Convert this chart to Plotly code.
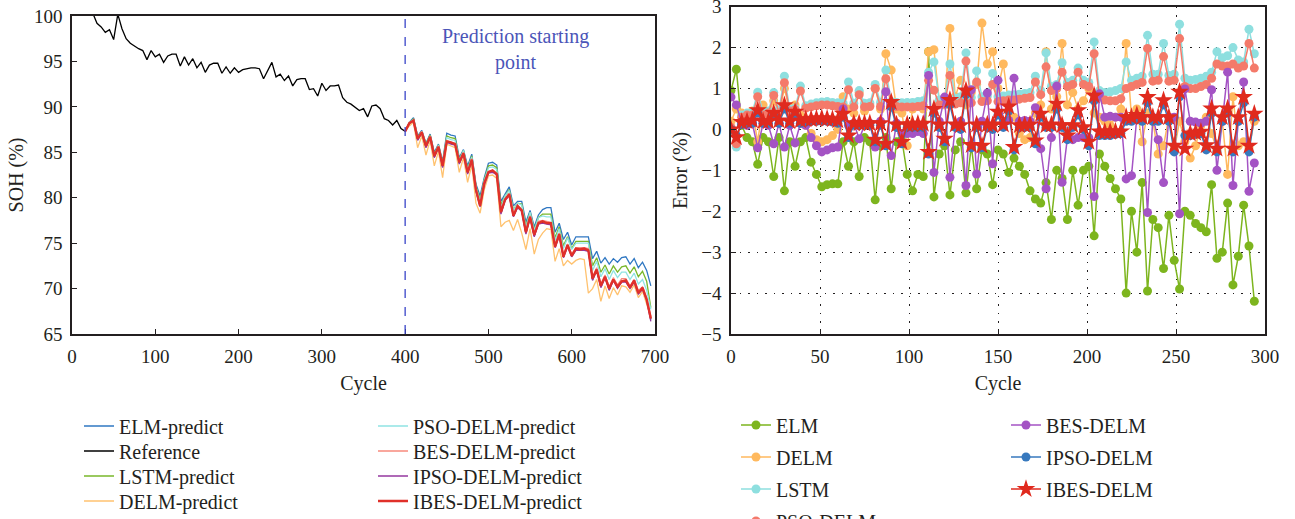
import plotly.graph_objects as go

# ---------------- Left panel: SOH curves ----------------
ref_cycles = list(range(0, 700, 5))
reference = [
    102.5, 102.0, 101.6, 101.2, 100.8, 100.3, 99.2, 98.8, 98.2, 98.5,
    97.4, 100.2, 98.6, 97.5, 97.0, 96.7, 96.4, 96.2, 95.2, 96.2,
    95.5, 95.8, 94.9, 95.6, 95.8, 95.8, 94.5, 95.5, 94.6, 95.3,
    94.3, 94.9, 93.8, 94.6, 94.8, 94.8, 93.7, 94.4, 93.7, 94.3,
    93.8, 94.1, 94.2, 94.3, 94.3, 94.2, 93.1, 94.0, 94.9, 93.3,
    93.6, 92.9, 93.4, 92.3, 93.0, 93.1, 93.1, 91.9, 92.0, 91.2,
    92.6, 91.8, 92.3, 92.3, 92.4, 91.0, 90.5, 90.3, 90.0, 89.6,
    89.8, 88.9, 90.1, 90.2, 89.8, 88.7, 88.5, 88.0, 88.5, 87.6,
    87.3, 88.2, 88.5, 86.4, 87.2, 85.6, 86.7, 84.5, 85.6, 83.4,
    86.2, 86.0, 85.9, 83.8, 84.9, 82.7, 84.2, 80.8, 79.1, 81.5,
    82.8, 82.9, 82.6, 78.3, 79.8, 80.3, 78.0, 79.0, 78.6, 76.1,
    77.9, 75.8, 77.2, 77.3, 77.2, 77.1, 74.6, 75.9, 73.5, 74.7,
    73.6, 74.3, 74.3, 74.3, 74.2, 71.0, 72.1, 70.2, 71.3, 69.9,
    71.0, 70.1, 70.8, 70.8, 70.1, 70.8, 69.5, 70.0, 68.8, 66.6,
]

pred_cycles = list(range(400, 700, 5))
elm_pred = [
    87.3, 88.3, 88.8, 86.8, 87.4, 86.0, 87.0, 85.0, 85.9, 84.0,
    87.1, 86.9, 86.8, 84.4, 85.3, 83.5, 84.8, 81.5, 80.2, 82.2,
    83.8, 83.9, 83.6, 79.6, 80.4, 81.2, 79.1, 79.6, 79.6, 77.3,
    78.6, 76.8, 78.1, 78.7, 78.9, 78.9, 76.2, 77.2, 75.4, 76.2,
    74.8, 75.7, 75.7, 75.7, 75.7, 73.3, 74.1, 72.8, 73.4, 72.7,
    73.3, 72.9, 73.4, 73.5, 72.7, 73.3, 72.3, 72.9, 72.0, 70.3,
]
lstm_pred = [
    87.3, 88.25, 88.7, 86.7, 87.3, 85.9, 86.9, 84.8, 85.8, 83.8,
    86.8, 86.6, 86.5, 84.2, 85.2, 83.2, 84.6, 81.3, 79.8, 82.0,
    83.5, 83.6, 83.3, 79.2, 80.2, 80.9, 78.7, 79.4, 79.3, 76.9,
    78.4, 76.5, 77.8, 78.2, 78.2, 78.2, 75.6, 76.8, 74.7, 75.7,
    74.4, 75.2, 75.2, 75.2, 75.2, 72.5, 73.4, 71.8, 72.6, 71.6,
    72.5, 71.8, 72.4, 72.5, 71.7, 72.4, 71.3, 71.9, 70.8, 67.9,
]
delm_pred = [
    87.3, 87.9, 88.3, 85.5, 86.8, 84.7, 86.3, 83.5, 85.1, 82.2,
    85.9, 85.7, 85.5, 82.8, 84.4, 81.7, 83.6, 79.4, 78.3, 80.9,
    82.4, 82.5, 82.1, 76.8, 77.3, 77.5, 76.4, 77.6, 76.1, 74.3,
    76.6, 73.8, 75.4, 76.1, 76.6, 76.5, 73.0, 74.4, 72.5, 73.1,
    72.7, 73.1, 73.3, 73.2, 69.5, 70.0, 71.0, 68.6, 70.3, 68.9,
    70.1, 69.3, 70.3, 70.2, 69.6, 70.4, 69.0, 69.7, 68.4, 66.9,
]
pso_pred = [
    87.3, 88.3, 88.6, 86.6, 87.3, 85.8, 86.8, 84.7, 85.8, 83.7,
    86.6, 86.4, 86.3, 84.1, 85.2, 83.1, 84.5, 81.2, 79.6, 81.9,
    83.3, 83.4, 83.1, 78.9, 80.2, 80.8, 78.6, 79.4, 79.2, 76.7,
    78.4, 76.4, 77.8, 78.0, 77.9, 77.9, 75.3, 76.6, 74.4, 75.6,
    74.3, 75.0, 75.0, 75.0, 75.0, 72.0, 73.0, 71.3, 72.2, 71.0,
    72.0, 71.2, 71.8, 71.8, 71.0, 71.7, 70.5, 71.0, 69.8, 67.7,
]
bes_pred = [
    87.3, 88.3, 88.5, 86.5, 87.3, 85.7, 86.8, 84.6, 85.7, 83.5,
    86.3, 86.1, 86.0, 83.9, 85.0, 82.8, 84.3, 80.9, 79.2, 81.6,
    82.9, 83.0, 82.7, 78.5, 79.9, 80.4, 78.2, 79.1, 78.7, 76.3,
    78.0, 76.0, 77.4, 77.5, 77.4, 77.3, 74.8, 76.1, 73.7, 74.9,
    73.8, 74.5, 74.5, 74.5, 74.4, 71.3, 72.3, 70.5, 71.5, 70.2,
    71.2, 70.4, 71.1, 71.1, 70.3, 71.0, 69.8, 70.2, 69.0, 66.9,
]
ipso_pred = [
    87.3, 88.2, 88.4, 86.3, 87.1, 85.5, 86.6, 84.4, 85.5, 83.3,
    86.1, 85.9, 85.8, 83.7, 84.8, 82.6, 84.1, 80.7, 79.0, 81.4,
    82.7, 82.8, 82.5, 78.2, 79.7, 80.2, 77.9, 78.9, 78.5, 76.0,
    77.8, 75.7, 77.1, 77.2, 77.1, 77.0, 74.5, 75.8, 73.4, 74.6,
    73.5, 74.2, 74.2, 74.2, 74.1, 70.9, 72.0, 70.1, 71.2, 69.8,
    70.9, 70.0, 70.7, 70.7, 70.0, 70.7, 69.4, 69.9, 68.7, 66.4,
]
ibes_pred = [
    87.3, 88.2, 88.5, 86.5, 87.2, 85.7, 86.7, 84.6, 85.6, 83.5,
    86.2, 86.1, 85.9, 83.9, 84.9, 82.8, 84.2, 80.9, 79.1, 81.6,
    82.8, 83.0, 82.6, 78.4, 79.8, 80.4, 78.0, 79.1, 78.6, 76.2,
    77.9, 75.9, 77.2, 77.4, 77.2, 77.2, 74.6, 76.0, 73.5, 74.8,
    73.6, 74.4, 74.3, 74.4, 74.2, 71.1, 72.1, 70.3, 71.3, 70.0,
    71.0, 70.2, 70.8, 70.9, 70.1, 70.9, 69.5, 70.1, 68.8, 66.7,
]

# ---------------- Right panel: errors ----------------
err_cycles = list(range(0, 295, 3))
err_elm = [
    0.95, 1.47, 0.10, -0.20, -0.30, -0.85, -0.20, -0.30, -1.15, -0.20,
    -1.50, -0.30, -0.90, -0.30, -0.20, -0.80, -1.10, -1.40, -1.35, -1.33,
    -1.33, -0.30, -0.90, -0.30, -1.15, -0.20, -0.30, -1.72, -0.40, -0.20,
    -1.45, -0.30, -0.25, -1.10, -1.50, -1.10, -1.15, 1.90, -1.65, -0.60,
    -0.40, -1.60, -0.50, -0.30, -1.55, -0.40, -1.45, -0.50, -0.60, -1.35,
    -0.50, -0.60, -1.05, -0.70, -0.90, -1.10, -1.50, -1.70, -1.80, -1.30,
    -2.20, -1.00, -1.20, -2.20, -1.00, -1.85, -1.00, -0.90, -2.60, -0.60,
    -0.90, -1.20, -1.45, -1.70, -4.00, -2.00, -3.00, -1.30, -3.95, -2.20,
    -2.40, -3.40, -2.10, -3.20, -3.90, -2.00, -2.10, -2.30, -2.40, -2.50,
    -1.35, -3.15, -3.00, -1.80, -3.80, -3.10, -1.85, -2.85, -4.20,
]
err_delm = [
    0.20, 0.50, 0.40, 0.30, 0.45, -0.30, 0.60, 0.35, 0.70, 0.40,
    1.00, 0.45, 0.60, 0.35, 0.10, -0.10, -0.25, -0.30, -0.25, -0.15,
    0.00, 0.80, 0.50, 0.40, 0.90, 0.45, 0.60, 1.00, 0.50, 1.85,
    1.45, 0.50, 0.40, -0.40, 0.50, 0.60, 0.50, 1.90, 1.95, 0.70,
    0.60, 2.47, 0.80, 1.20, 0.60, 0.90, 1.10, 2.60, 1.60, 1.90,
    1.00, 1.60, 0.60, 0.30, -0.10, -0.25, -0.20, 0.40, 0.60, 1.90,
    0.50, 0.80, 2.10, 0.60, 0.90, 0.50, 0.70, 1.00, 0.40, 0.30,
    0.20, 0.10, 0.30, 0.50, 2.10, 0.30, 0.50, -0.30, 0.40, 0.20,
    -0.60, -0.40, 0.30, -0.50, 0.20, -0.30, -0.70, -0.40, 0.10, 0.30,
    -0.10, -0.50, 0.20, -1.10, 0.80, -0.40, -0.30, -0.45, 0.20,
]
err_lstm = [
    0.00, -0.43, 0.35, 0.40, 0.42, 0.91, 0.42, 0.45, 0.90, 0.48,
    1.30, 0.50, 0.52, 1.06, 0.58, 0.62, 0.65, 0.67, 0.68, 0.66,
    0.65, 0.64, 1.16, 0.64, 0.95, 0.64, 0.65, 1.10, 0.66, 1.45,
    0.68, 0.66, 0.65, 0.66, 0.66, 0.68, 0.70, 1.40, 1.65, 0.72,
    0.74, 1.60, 0.76, 0.80, 1.87, 0.78, 1.43, 0.80, 0.82, 1.37,
    0.80, 0.82, 0.84, 0.85, 0.86, 0.88, 0.90, 1.30, 0.95, 1.87,
    1.05, 1.10, 1.63, 1.15, 1.20, 1.50, 1.20, 1.15, 2.14, 0.95,
    0.90, 0.92, 0.95, 1.00, 1.65, 1.20, 1.25, 1.30, 2.30, 1.35,
    1.35, 2.10, 1.32, 1.35, 2.57, 1.25, 1.20, 1.22, 1.25, 1.30,
    1.40, 1.90, 1.75, 1.80, 2.00, 1.70, 1.65, 2.45, 1.85,
]
err_pso = [
    0.05, -0.35, 0.30, 0.35, 0.35, 0.80, 0.35, 0.40, 0.83, 0.40,
    1.14, 0.45, 0.48, 0.94, 0.52, 0.55, 0.58, 0.60, 0.60, 0.58,
    0.56, 0.55, 0.97, 0.55, 0.85, 0.55, 0.56, 1.00, 0.56, 1.24,
    0.58, 0.56, 0.55, 0.55, 0.55, 0.56, 0.58, 1.20, 0.96, 0.60,
    0.62, 1.32, 0.62, 0.65, 1.67, 0.65, 1.16, 0.68, 0.70, 1.10,
    0.68, 0.70, 0.72, 0.72, 0.74, 0.76, 0.78, 1.16, 0.85, 1.53,
    0.95, 1.00, 1.40, 1.05, 1.10, 1.40, 1.10, 1.05, 1.85, 0.80,
    0.72, 0.70, 0.70, 0.75, 1.00, 1.05, 1.10, 1.15, 1.98, 1.18,
    1.20, 1.78, 1.18, 1.20, 2.22, 1.05, 1.00, 1.00, 1.05, 1.10,
    1.25, 1.60, 1.55, 1.55, 1.60, 1.50, 1.55, 2.10, 1.50,
]
err_bes = [
    0.79, 0.60, 0.15, 0.10, 0.15, -0.45, 0.15, 0.10, -0.35, 0.15,
    -0.43, 0.10, -0.33, 0.15, 0.10, -0.20, -0.40, -0.55, -0.50, -0.45,
    -0.43, 0.50, 0.10, 0.15, -0.23, 0.10, 0.15, -0.43, 0.20, 0.92,
    -0.64, 0.15, -0.10, -0.10, -0.10, -0.05, -0.10, 1.32, -1.05, 0.20,
    0.79, -1.17, 0.10, 0.20, -1.37, 0.97, -1.09, 0.20, 0.89, -0.84,
    1.20, 0.20, 0.22, 1.25, 0.20, 0.22, 0.20, 0.53, -0.47, -1.45,
    -0.20, 1.06, -1.29, -0.20, -0.25, -0.20, -0.20, -0.20, -1.64, 0.87,
    0.30, 0.32, 0.30, 0.30, -1.21, -1.13, 0.30, 0.30, -2.03, 0.30,
    -0.25, -1.30, 0.30, 0.30, -2.06, 0.99, 0.20, 0.18, 0.15, 0.20,
    0.97, -1.00, 0.20, 1.40, -1.37, 0.20, 1.16, -1.51, -0.82,
]
err_ipso = [
    0.00, -0.15, 0.12, 0.15, 0.15, 0.40, 0.15, 0.15, 0.35, 0.15,
    0.50, 0.15, 0.35, 0.15, 0.18, 0.20, 0.20, 0.20, 0.20, 0.18,
    0.15, 0.30, -0.20, 0.10, 0.10, 0.10, 0.10, -0.30, 0.10, -0.40,
    0.55, 0.05, -0.35, 0.05, 0.05, 0.05, 0.05, -0.60, 0.40, 0.05,
    -0.30, 0.60, 0.05, 0.00, 0.85, -0.45, 0.05, -0.45, 0.05, 0.00,
    0.35, 0.05, 0.45, -0.50, 0.05, 0.05, 0.05, -0.35, 0.30, 0.05,
    0.05, 0.50, 0.05, -0.25, 0.05, 0.35, 0.00, -0.40, 0.70, -0.15,
    -0.15, -0.15, -0.12, -0.10, 0.20, 0.20, 0.25, 0.20, 0.65, 0.20,
    0.20, 0.60, 0.20, -0.55, 0.80, -0.15, -0.15, -0.12, -0.10, -0.50,
    0.40, -0.55, 0.20, 0.40, -0.55, 0.20, 0.65, -0.55, 0.30,
]
err_ibes = [
    0.00, -0.19, 0.18, 0.20, 0.22, 0.47, 0.20, 0.20, 0.40, 0.22,
    0.59, 0.20, 0.43, 0.22, 0.25, 0.25, 0.26, 0.27, 0.26, 0.25,
    0.22, 0.38, -0.15, 0.15, 0.15, 0.15, 0.15, -0.25, 0.15, -0.35,
    0.67, 0.12, -0.31, 0.12, 0.12, 0.14, 0.14, -0.55, 0.50, 0.12,
    -0.23, 0.72, 0.12, 0.10, 0.95, -0.38, 0.12, -0.40, 0.12, 0.10,
    0.43, 0.12, 0.56, -0.43, 0.10, 0.10, 0.12, -0.27, 0.38, 0.10,
    0.12, 0.63, 0.10, -0.15, 0.10, 0.47, 0.05, -0.30, 0.83, -0.05,
    -0.06, -0.06, -0.05, -0.05, 0.30, 0.30, 0.35, 0.30, 0.79, 0.30,
    0.30, 0.71, 0.30, -0.40, 0.92, -0.47, -0.10, -0.08, -0.06, -0.39,
    0.51, -0.47, 0.30, 0.51, -0.47, 0.30, 0.79, -0.40, 0.38,
]

left_x_ticks = [0, 100, 200, 300, 400, 500, 600, 700]
left_y_ticks = [65, 70, 75, 80, 85, 90, 95, 100]
right_x_ticks = [0, 50, 100, 150, 200, 250, 300]
right_y_ticks = [-5, -4, -3, -2, -1, 0, 1, 2, 3]

FONT = "Liberation Serif, Times New Roman, serif"
TXT = "#231f20"
W, H = 1295, 519

fig = go.Figure()

legend_pos = {}

# Left panel traces: name, x, y, colour, width, legend id, legend x(px), legend y(px)
left_specs = [
    ("Reference", ref_cycles, reference, "#000000", 1.3, "legend2", 79, 451),
    ("ELM-predict", pred_cycles, elm_pred, "#2F77C2", 1.3, "legend", 79, 426),
    ("LSTM-predict", pred_cycles, lstm_pred, "#78B72A", 1.3, "legend3", 79, 476),
    ("DELM-predict", pred_cycles, delm_pred, "#FFC26F", 1.3, "legend4", 79, 501),
    ("PSO-DELM-predict", pred_cycles, pso_pred, "#8FE3E3", 1.3, "legend5", 373, 426),
    ("BES-DELM-predict", pred_cycles, bes_pred, "#F78A7D", 1.3, "legend6", 373, 451),
    ("IPSO-DELM-predict", pred_cycles, ipso_pred, "#94379F", 1.3, "legend7", 373, 476),
    ("IBES-DELM-predict", pred_cycles, ibes_pred, "#E0302A", 2.4, "legend8", 373, 501),
]
for name, xs, ys, col, w, leg, lx, ly in left_specs:
    fig.add_trace(go.Scatter(x=xs, y=ys, mode="lines", name=name,
                             line=dict(color=col, width=w), legend=leg,
                             showlegend=True, xaxis="x", yaxis="y"))
    legend_pos[leg] = (lx, ly)

# Right panel traces
right_specs = [
    ("ELM", err_elm, "#7DB51E", "circle", 9, "legend9", 736, 425),
    ("DELM", err_delm, "#FFB95E", "circle", 9, "legend10", 736, 457),
    ("LSTM", err_lstm, "#8EDFDF", "circle", 9, "legend11", 736, 489),
    ("PSO-DELM", err_pso, "#F47A6A", "circle", 9, "legend12", 736, 521),
    ("BES-DELM", err_bes, "#A453C4", "circle", 9, "legend13", 1006, 425),
    ("IPSO-DELM", err_ipso, "#3779BE", "circle", 9, "legend14", 1006, 457),
    ("IBES-DELM", err_ibes, "#E02A1E", "star", 14, "legend15", 1006, 489),
]
for name, ys, col, sym, sz, leg, lx, ly in right_specs:
    fig.add_trace(go.Scatter(x=err_cycles, y=ys, mode="lines+markers", name=name,
                             line=dict(color=col, width=1.5),
                             marker=dict(color=col, symbol=sym, size=sz, line=dict(width=0)),
                             legend=leg, showlegend=True, xaxis="x2", yaxis="y2"))
    legend_pos[leg] = (lx, ly)

legend_layout = {}
for leg, (lx, ly) in legend_pos.items():
    legend_layout[leg] = dict(
        x=lx / W, xanchor="left", y=1 - ly / H, yanchor="middle",
        bgcolor="rgba(0,0,0,0)", borderwidth=0, visible=True,
        font=dict(family=FONT, size=20, color=TXT),
    )
fig.update_layout(showlegend=True, **legend_layout)

axis_common = dict(showline=True, mirror=True, linecolor="#231f20", linewidth=1.5,
                   ticks="inside", ticklen=5, tickcolor="#231f20", zeroline=False,
                   ticklabeloverflow="allow",
                   tickfont=dict(family=FONT, size=19, color=TXT))

fig.update_layout(
    width=W, height=H,
    margin=dict(l=0, r=0, t=0, b=0, autoexpand=False),
    paper_bgcolor="white", plot_bgcolor="white",
    xaxis=dict(domain=[72 / W, 655 / W], range=[0, 700], tickvals=left_x_ticks,
               showgrid=False, anchor="y", ticklabelstandoff=4,
               title=dict(text="Cycle", font=dict(family=FONT, size=20, color=TXT), standoff=10),
               **axis_common),
    yaxis=dict(domain=[1 - 334 / H, 1 - 16 / H], range=[65, 100], tickvals=left_y_ticks,
               showgrid=False, anchor="x", ticklabelstandoff=4,
               title=dict(text="SOH (%)", font=dict(family=FONT, size=20, color=TXT), standoff=5),
               **axis_common),
    xaxis2=dict(domain=[731 / W, 1265 / W], range=[0, 300], tickvals=right_x_ticks,
                showgrid=True, gridcolor="#231f20", gridwidth=1, griddash="1.5px,7px",
                anchor="y2", ticklabelstandoff=4,
                title=dict(text="Cycle", font=dict(family=FONT, size=20, color=TXT), standoff=10),
                **axis_common),
    yaxis2=dict(domain=[1 - 334 / H, 1 - 6.7 / H], range=[-5, 3], tickvals=right_y_ticks,
                showgrid=True, gridcolor="#231f20", gridwidth=1, griddash="1.5px,7px",
                anchor="x2", ticklabelstandoff=4,
                title=dict(text="Error (%)", font=dict(family=FONT, size=20, color=TXT), standoff=8),
                **axis_common),
)

# Prediction start marker
fig.add_shape(type="line", xref="x", yref="y", x0=400, x1=400, y0=65, y1=100,
              line=dict(color="#3A45C8", width=1.3, dash="dash"))
fig.add_annotation(xref="x", yref="y", x=532, y=96.3, text="Prediction starting<br>point",
                   showarrow=False, font=dict(family=FONT, size=20, color="#4B55B8"),
                   align="center")

fig.write_html("out.html")
